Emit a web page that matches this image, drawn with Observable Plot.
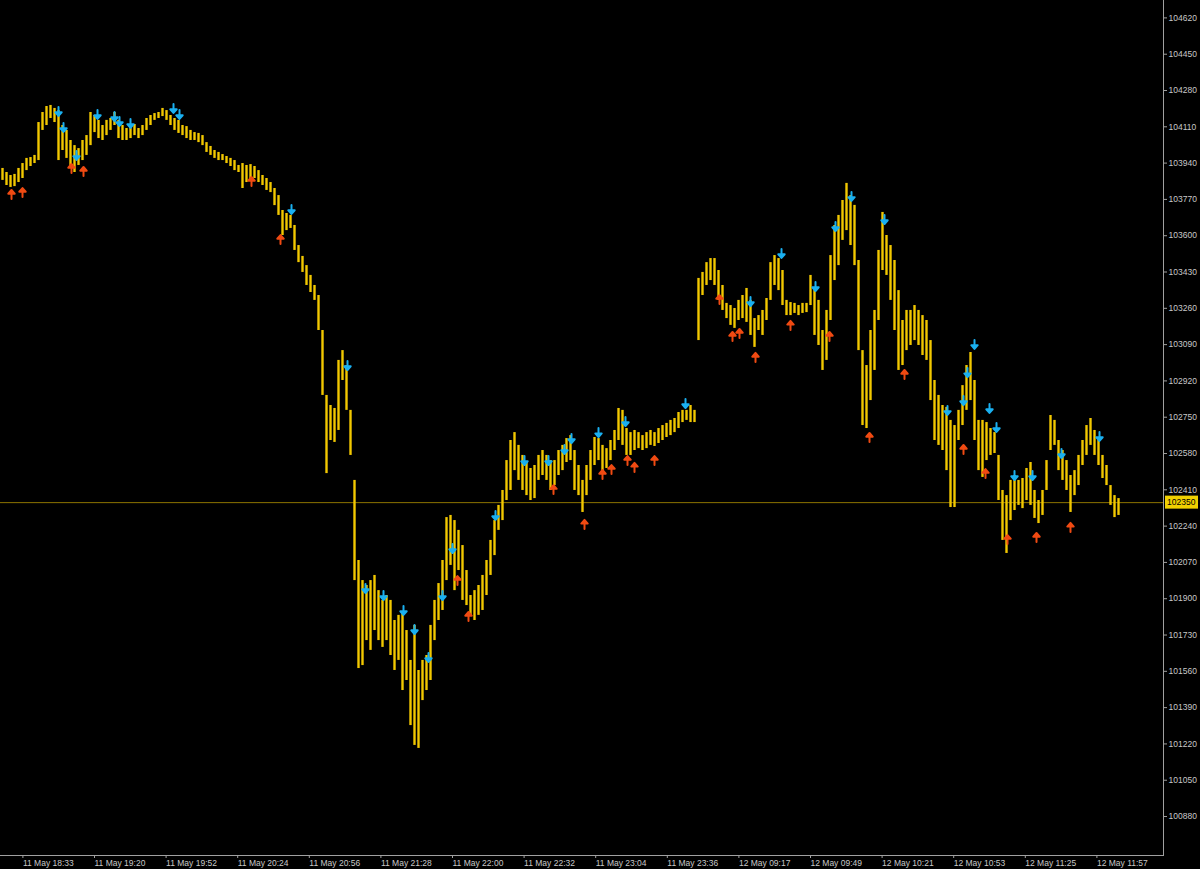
<!DOCTYPE html>
<html>
<head>
<meta charset="utf-8">
<script src="https://cdn.jsdelivr.net/npm/d3@7"></script>
<script src="https://cdn.jsdelivr.net/npm/@observablehq/plot@0.6"></script>
<style>
  html, body { margin: 0; padding: 0; background: #000; }
  #chart { width: 1200px; height: 869px; overflow: hidden; }
</style>
</head>
<body>
<div id="chart"></div>
<script>
// Bar highs and lows (one value per sampled bar, left to right)
const highs = [
103915,103896,103882,103887,103915,103938,103962,103966,103976,104130,
104177,104205,104210,104196,104186,104116,104093,104046,104022,104008,
104046,104069,104177,104163,104140,104116,104140,104149,104177,104140,
104116,104102,104116,104121,104102,104116,104149,104163,104172,104177,
104196,104186,104163,104149,104140,104116,104111,104093,104083,104079,
104069,104036,104018,103999,103990,103980,103971,103962,103952,103929,
103938,103929,103933,103924,103905,103882,103868,103849,103821,103788,
103718,103704,103695,103648,103554,103503,103460,103414,103367,103320,
103156,102852,102805,102791,103016,103062,102992,102782,102454,102079,
101985,101962,101985,102009,101938,101892,101915,101892,101798,101822,
101831,101751,101611,101775,101564,101611,101634,101775,101892,101971,
102079,102280,102290,102266,102220,102149,102032,101915,101938,101962,
102009,102079,102173,102266,102337,102407,102547,102641,102678,102618,
102571,102538,102510,102524,102571,102594,102571,102547,102547,102594,
102618,102650,102664,102594,102524,102454,102524,102594,102655,102650,
102618,102603,102641,102688,102791,102782,102697,102678,102688,102678,
102664,102678,102688,102678,102697,102711,102721,102735,102744,102772,
102782,102782,102805,102782,103400,103428,103474,103493,103493,103437,
103367,103283,103273,103259,103297,103320,103353,103297,103212,103226,
103250,103306,103474,103507,103493,103437,103297,103287,103283,103273,
103283,103283,103414,103343,103297,103156,103250,103507,103648,103695,
103765,103845,103788,103742,103484,103062,102992,103156,103250,103531,
103709,103601,103554,103484,103343,103203,103250,103250,103273,103250,
103226,103203,103109,102922,102852,102805,102796,102735,102711,102782,
102898,102992,103053,102922,102735,102735,102725,102697,102678,102571,
102407,102383,102454,102477,102454,102463,102510,102538,102407,102360,
102407,102547,102758,102735,102641,102594,102547,102477,102500,102571,
102641,102711,102744,102688,102641,102571,102524,102430,102383,102369
];
const lows = [
103859,103835,103826,103830,103849,103868,103905,103924,103938,103952,
104093,104116,104149,104130,103952,103999,103962,103929,103896,103929,
103952,103976,104022,104083,104055,104046,104069,104093,104116,104055,
104046,104046,104055,104069,104055,104069,104093,104116,104140,104149,
104158,104140,104116,104093,104079,104069,104055,104046,104046,104036,
104022,103990,103976,103962,103952,103952,103938,103924,103905,103896,
103821,103849,103868,103868,103849,103835,103812,103802,103741,103695,
103601,103624,103634,103531,103474,103428,103367,103334,103297,103156,
102852,102486,102641,102632,102688,102922,102782,102571,101985,101573,
101587,101704,101658,101751,101704,101672,101704,101634,101564,101611,
101470,101517,101306,101213,101199,101423,101470,101517,101704,101798,
101845,101985,102056,101938,102032,101892,101868,101822,101798,101822,
101845,101915,102009,102102,102220,102266,102360,102407,102500,102454,
102407,102383,102360,102369,102454,102477,102454,102407,102430,102477,
102500,102538,102547,102407,102383,102304,102383,102454,102524,102547,
102500,102510,102547,102594,102641,102618,102571,102571,102594,102603,
102594,102603,102618,102613,102627,102641,102655,102664,102678,102697,
102725,102735,102725,102725,103109,103320,103367,103390,103367,103297,
103250,103212,103180,103166,103203,103212,103194,103133,103077,103156,
103133,103203,103297,103367,103343,103273,103226,103226,103236,103226,
103236,103240,103273,103133,103086,102969,103016,103203,103390,103460,
103578,103624,103554,103460,103062,102711,102697,102828,102969,103203,
103437,103414,103297,103156,102969,102992,103062,103086,103109,103086,
103039,103016,102828,102641,102618,102594,102500,102327,102327,102641,
102711,102782,102828,102641,102500,102468,102547,102571,102580,102360,
102173,102112,102266,102313,102337,102322,102360,102337,102276,102252,
102290,102407,102594,102618,102500,102454,102407,102304,102383,102430,
102524,102571,102618,102571,102524,102463,102430,102337,102280,102290
];
const lastPrice = 102350;

// Signal arrows: bar position and price
const sellBars   = [14,15.25,18.5,23.75,28,29.25,32,42.75,44.25,72.25,86.25,90.75,95.25,100.25,103,106.5,110,112.5,123.25,130.5,136.5,140.5,142.25,149,155.75,170.75,187,194.75,203.25,208.25,212.25,220.5,236.25,240.25,241.25,243,246.75,248.5,253,257.5,264.75,274.25];
const sellPrices = [104182,104107,103976,104168,104158,104135,104126,104196,104168,103723,102992,101948,101915,101845,101756,101625,101915,102135,102290,102547,102547,102599,102650,102678,102730,102814,103292,103517,103362,103643,103784,103676,102782,102828,102959,103091,102791,102702,102477,102477,102580,102660];
const buyBars    = [2.25,5,17.25,20.25,62.25,69.5,113.75,116.5,137.75,145.5,150,152.25,156.25,158,163,179.25,182.5,184.25,188.25,197,206.75,216.75,225.5,240.25,245.75,251.25,258.5,267];
const buyPrices  = [103793,103802,103915,103901,103854,103582,101985,101817,102411,102248,102482,102505,102547,102515,102547,103301,103128,103142,103030,103180,103128,102655,102950,102599,102486,102177,102187,102234];

// Axis ticks
const priceTicks = [104620,104450,104280,104110,103940,103770,103600,103430,103260,103090,102920,102750,102580,102410,102240,102070,101900,101730,101560,101390,101220,101050,100880];
const timeTickBars = [4.6,22.5,40.4,58.3,76.2,94.1,112,129.9,147.8,165.7,183.6,201.5,219.4,237.3,255.2,273.1];
const timeTickLabels = ["11 May 18:33","11 May 19:20","11 May 19:52","11 May 20:24","11 May 20:56","11 May 21:28","11 May 22:00","11 May 22:32","11 May 23:04","11 May 23:36","12 May 09:17","12 May 09:49","12 May 10:21","12 May 10:53","12 May 11:25","12 May 11:57"];

const bars = highs.map((h, i) => ({i, high: h, low: lows[i]}));
const sells = sellBars.map((b, k) => ({i: b, p: sellPrices[k]}));
const buys = buyBars.map((b, k) => ({i: b, p: buyPrices[k]}));

// thick arrow: shaft plus filled head, centred on the point
const arrowShape = {
  draw(context, l, r) {
    const h = r + 0.5;
    context.moveTo(0, l / 2);
    context.lineTo(0, -l / 2 + h);
    context.moveTo(-r, -l / 2 + h);
    context.lineTo(0, -l / 2);
    context.lineTo(r, -l / 2 + h);
    context.closePath();
  }
};

const chart = Plot.plot({
  width: 1200,
  height: 869,
  marginLeft: 0,
  marginRight: 37,
  marginTop: 0,
  marginBottom: 14,
  style: {background: "#000", color: "#c8c8c8", fontFamily: "'Liberation Sans', Arial, sans-serif", fontSize: "8.5px"},
  x: {domain: [-0.5, 290.25], axis: null},
  y: {domain: [100697.5, 104701.5], axis: null},
  marks: [
    Plot.ruleY([lastPrice], {stroke: "#8c7400", strokeWidth: 1}),
    Plot.ruleX(bars, {x: "i", y1: "low", y2: "high", stroke: "#f2c800", strokeWidth: 2.4}),
    Plot.vector(sells, {x: "i", y: "p", rotate: 180, length: 9, r: 3.2, shape: arrowShape, anchor: "start", stroke: "#1ab0f0", fill: "#1ab0f0", strokeWidth: 2}),
    Plot.vector(buys, {x: "i", y: "p", rotate: 0, length: 9, r: 3.2, shape: arrowShape, anchor: "start", stroke: "#f04a12", fill: "#f04a12", strokeWidth: 2}),
    Plot.axisY(priceTicks, {anchor: "right", label: null, tickSize: 3, tickPadding: 2, tickFormat: d => String(d), color: "#c8c8c8", stroke: "#a0a0a0"}),
    Plot.axisX(timeTickBars, {anchor: "bottom", label: null, tickSize: 3, tickPadding: 1, textAnchor: "start", dx: 2, tickFormat: (d, k) => timeTickLabels[k], color: "#c8c8c8", stroke: "#a0a0a0"}),
    Plot.frame({anchor: "right", stroke: "#a0a0a0"}),
    Plot.frame({anchor: "bottom", stroke: "#a0a0a0"})
  ]
});

document.getElementById("chart").appendChild(chart);

// current price label box on the price axis
const svg = d3.select(chart);
const yp = chart.scale("y").apply(lastPrice);
const xr = 1200 - 37;
const g = svg.append("g");
g.append("rect").attr("x", xr + 2).attr("y", yp - 6.5).attr("width", 33).attr("height", 13).attr("fill", "#f0d000");
g.append("text").attr("x", xr + 4).attr("y", yp).attr("dy", "0.35em").attr("text-anchor", "start")
  .attr("font-family", "'Liberation Sans', Arial, sans-serif").attr("font-size", "8.5px").attr("fill", "#000")
  .text(String(lastPrice));
</script>
</body>
</html>
